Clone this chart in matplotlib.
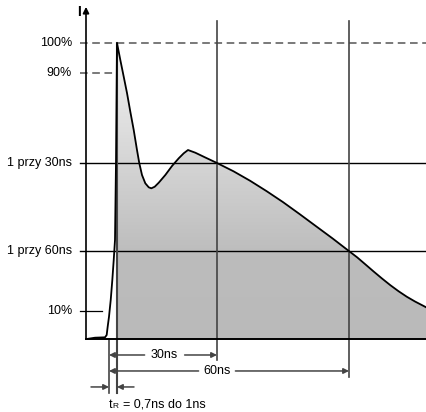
import matplotlib
matplotlib.use('Agg')
import matplotlib.pyplot as plt
import numpy as np
from matplotlib.colors import LinearSegmentedColormap

plt.rcParams['font.family'] = ['Liberation Sans', 'DejaVu Sans']

# waveform (schematic): time in ns, current in % of peak
t_ns = [-5.58, -3.5, -1.0, -0.58, -0.33, 0.0, 0.43, 0.83, 1.18, 1.5, 1.75, 2.0,
        2.83, 3.68, 4.5, 5.33, 6.18, 7.0, 7.58, 8.25, 9.08, 9.93, 10.58,
        11.43, 12.43, 14.08, 15.75, 17.43, 18.68, 19.75, 21.58, 24.08, 27.0,
        31.13, 35.25, 39.38, 43.5, 47.63, 51.75, 55.88, 60.0, 62.06, 64.13,
        66.19, 68.25, 70.31, 72.38, 74.44, 76.5, 79.25]
i_pct = [0.0, 0.44, 0.57, 1.35, 4.16, 7.53, 13.18, 19.93, 26.69, 33.45, 59.46, 100.0,
         94.26, 88.61, 83.11, 76.79, 70.61, 63.85, 59.36, 55.41, 52.6, 51.25, 50.91,
         51.45, 52.8, 55.41, 58.45, 61.05, 62.74, 63.85, 62.94, 61.32, 59.46,
         56.66, 53.48, 49.97, 46.25, 42.23, 38.11, 33.99, 29.7, 27.57, 25.17,
         22.77, 20.44, 18.21, 16.15, 14.29, 12.67, 10.74]

level_names = ['100%', '90%', '1 przy 30ns', '1 przy 60ns', '10%']
level_vals = [100.0, 90.0, 59.46, 29.7, 9.5]

t_rise_start = 0.0
t_peak = 2.0
t_30 = 27.0
t_60 = 60.0

fig = plt.figure(figsize=(4.26, 4.12), dpi=100)
ax = fig.add_axes([0, 0, 1, 1])
ax.set_xlim(-27.25, 79.25)
ax.set_ylim(-24.66, 114.53)
ax.axis('off')

t = np.array(t_ns)
cur = np.array(i_pct)

# gradient fill under the curve, from the peak onward
mask = t >= t_peak
poly = ax.fill_between(t[mask], 0, cur[mask], color='none', lw=0)
cmap = LinearSegmentedColormap.from_list(
    'g', [(0.0, '#bababa'), (0.28, '#bcbcbc'), (1.0, '#f4f4f4')])
grad = np.linspace(0, 100, 200).reshape(-1, 1)
img = ax.imshow(grad, cmap=cmap, origin='lower', aspect='auto',
                extent=(t_peak, 79.25, 0, 100), vmin=0, vmax=100, zorder=1)
img.set_clip_path(poly.get_paths()[0], transform=ax.transData)

# horizontal reference lines
ax.plot([-7.25, 79.25], [100, 100], color='#555555', lw=1.1, ls=(0, (5, 3)), zorder=2)
ax.plot([-7.25, 1.0], [90, 90], color='#555555', lw=1.1, ls=(0, (5, 3)), zorder=2)
ax.plot([-7.25, 79.25], [level_vals[2]] * 2, color='black', lw=1.0, zorder=2)
ax.plot([-7.25, 79.25], [level_vals[3]] * 2, color='black', lw=1.0, zorder=2)
ax.plot([-7.25, -1.8], [level_vals[4]] * 2, color='black', lw=0.9, zorder=2)

for name, val in zip(level_names, level_vals):
    ax.text(-9.25, val, name, ha='right', va='center', fontsize=9)

# vertical marker lines
ax.plot([t_rise_start, t_rise_start], [0, -18.2], color='#444444', lw=1.2, zorder=3)
ax.plot([t_peak, t_peak], [100, -18.2], color='#444444', lw=1.5, zorder=3)
ax.plot([t_30, t_30], [107.4, -7.1], color='#444444', lw=1.2, zorder=3)
ax.plot([t_60, t_60], [107.4, -12.8], color='#444444', lw=1.2, zorder=3)

# waveform
ax.plot(t, cur, color='black', lw=1.3, zorder=4, solid_joinstyle='round')

# axes
ax.plot([-5.75, 79.25], [0, 0], color='black', lw=1.4, zorder=5)
ax.annotate('', xy=(-5.75, 112.2), xytext=(-5.75, 0),
            arrowprops=dict(arrowstyle='-|>', color='black', lw=1.2,
                            mutation_scale=9, shrinkA=0, shrinkB=0), zorder=5)
ax.text(-7.6, 110.5, 'I', ha='center', va='center', fontsize=10, fontweight='bold')

# dimension arrows
arrow_kw = dict(arrowstyle='-|>', color='#444444', lw=1.1, mutation_scale=8,
                shrinkA=0, shrinkB=0)


def dim_arrow(x0, x1, y, label, gap, frac):
    mid = x0 + frac * (x1 - x0)
    ax.annotate('', xy=(x0, y), xytext=(mid - gap, y), arrowprops=arrow_kw)
    ax.annotate('', xy=(x1, y), xytext=(mid + gap, y), arrowprops=arrow_kw)
    ax.text(mid, y, label, ha='center', va='center', fontsize=9)


dim_arrow(t_rise_start, t_30, -5.4, '30ns', 5.0, 0.515)
dim_arrow(t_rise_start, t_60, -10.8, '60ns', 4.6, 0.45)

ax.annotate('', xy=(t_rise_start, -16.2), xytext=(-4.5, -16.2), arrowprops=arrow_kw)
ax.annotate('', xy=(t_peak, -16.2), xytext=(6.25, -16.2), arrowprops=arrow_kw)

# t_R label: "R" as a small capital on the baseline
ax.text(-0.1, -23.2, 't', ha='left', va='baseline', fontsize=9)
ax.text(0.9, -23.2, 'R', ha='left', va='baseline', fontsize=6)
ax.text(3.6, -23.2, '= 0,7ns do 1ns', ha='left', va='baseline', fontsize=9)

fig.savefig('out.png', dpi=100)
